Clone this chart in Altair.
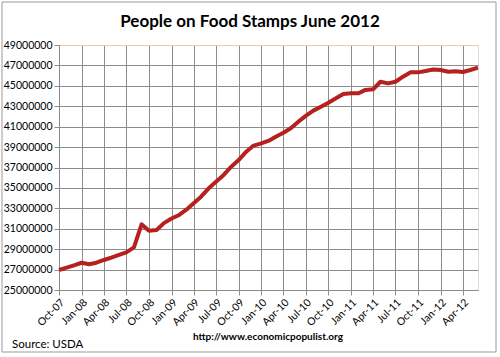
import altair as alt
import pandas as pd

months = pd.date_range("2007-10-01", "2012-06-01", freq="MS").strftime("%Y-%m-%d").tolist()
people = [
    26.96, 27.19, 27.42, 27.67, 27.52, 27.67, 27.94, 28.17, 28.43, 28.69, 29.18, 31.43,
    30.81, 30.88, 31.55, 32.00, 32.35, 32.84, 33.50, 34.14, 34.96, 35.60, 36.27, 37.08,
    37.73, 38.55, 39.15, 39.37, 39.63, 40.02, 40.40, 40.84, 41.49, 42.05, 42.57, 42.96,
    43.35, 43.78, 44.20, 44.27, 44.27, 44.60, 44.66, 45.40, 45.24, 45.40, 45.90, 46.32,
    46.32, 46.45, 46.60, 46.55, 46.38, 46.42, 46.35, 46.55, 46.78,
]
people = [round(v * 1_000_000) for v in people]
y_ticks = list(range(25_000_000, 49_000_001, 2_000_000))

title_text = "People on Food Stamps June 2012"
source_text = "Source:  USDA"
url_text = "http://www.economicpopulist.org"

df = pd.DataFrame({"month": months, "people": people})

FONT = "Lato"
GRID = "#8c8c8c"
BORDER = "#f7c596"

line = alt.Chart(df).mark_line(color="#b5211f", strokeWidth=4, strokeJoin="round").encode(
    x=alt.X(
        "month:T",
        scale=alt.Scale(domain=["2007-10-01", "2012-06-01"]),
        axis=alt.Axis(
            title=None,
            format="%b-%y",
            tickCount={"interval": "month", "step": 3},
            labelOverlap=False,
            labelAngle=-45,
            labelFont=FONT,
            labelFontSize=10.5,
            labelColor="#000000",
            gridColor=GRID,
            domainColor=GRID,
            tickColor=GRID,
            tickSize=5,
            labelPadding=2,
        ),
    ),
    y=alt.Y(
        "people:Q",
        scale=alt.Scale(domain=[25_000_000, 49_000_000], nice=False),
        axis=alt.Axis(
            title=None,
            values=y_ticks,
            format="d",
            labelOverlap=False,
            labelFont=FONT,
            labelFontSize=10.5,
            labelColor="#000000",
            gridColor=alt.condition("datum.value == 49000000", alt.value(BORDER), alt.value(GRID)),
            domainColor=GRID,
            tickColor=GRID,
            tickSize=5,
            labelPadding=2,
        ),
    ),
)

ttl = alt.Chart(pd.DataFrame({"t": [title_text]})).mark_text(
    font=FONT, fontSize=17, fontWeight="bold", align="center", baseline="alphabetic", color="#000000"
).encode(x=alt.value(191), y=alt.value(-18), text="t:N")

src = alt.Chart(pd.DataFrame({"t": [source_text]})).mark_text(
    font=FONT, fontSize=11.5, align="left", baseline="alphabetic", color="#000000"
).encode(x=alt.value(-47), y=alt.value(303), text="t:N")

url = alt.Chart(pd.DataFrame({"t": [url_text]})).mark_text(
    font=FONT, fontSize=10, fontWeight="bold", align="left", baseline="alphabetic", color="#000000"
).encode(x=alt.value(134), y=alt.value(295), text="t:N")

frame = alt.Chart(pd.DataFrame({"a": [0]})).mark_rect(
    fill=None, stroke="#9a9a9a", strokeWidth=1, clip=False
).encode(x=alt.value(-57), x2=alt.value(437), y=alt.value(-43), y2=alt.value(307))

chart = alt.layer(line, ttl, src, url, frame).properties(
    width=419,
    height=245,
    padding={"left": 59, "top": 45, "right": 22, "bottom": 67},
    autosize="none",
).configure_view(stroke=BORDER).configure(background="white")

chart.save("out.html", embed_options={"renderer": "svg", "actions": False})
